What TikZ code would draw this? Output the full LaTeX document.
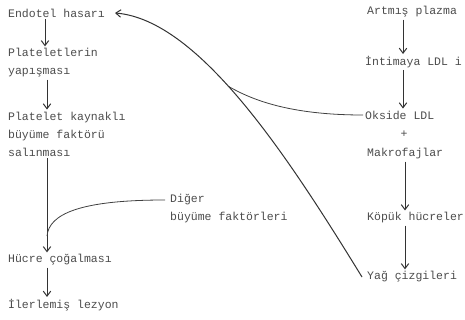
\documentclass[tikz,border=0pt]{standalone}
\usepackage{fontspec}
\newfontfamily\daktilo{Liberation Mono}
\usetikzlibrary{arrows.meta}

\begin{document}
\begin{tikzpicture}[x=1pt, y=-1pt,
    yazi/.style={anchor=west, inner sep=2pt, align=left, text=black!70,
        font=\daktilo\fontsize{11.5}{18}\selectfont},
    ok/.style={draw=black!80, line width=1pt, -{Straight Barb[length=5pt, width=7.5pt]}},
    egri/.style={draw=black!75, line width=0.8pt}]
    \useasboundingbox (0,0) rectangle (465,320);
    \foreach \n/\x/\y/\t in {endotel/6/13/Endotel hasarı,
            yapisma/6/63/{Plateletlerin\\yapışması},
            pdgf/6/134/{Platelet kaynaklı\\büyüme faktörü\\salınması},
            diger/168/209/{Diğer\\büyüme faktörleri},
            cogalma/6/260/Hücre çoğalması,
            lezyon/6/305/İlerlemiş lezyon,
            plazma/365/12/Artmış plazma,
            intima/363/62/İntimaya LDL i,
            okside/363/115/Okside LDL,
            makrofaj/365/154/Makrofajlar,
            kopuk/365/218/Köpük hücreler,
            yag/365/277/Yağ çizgileri} {
        \node[yazi] (\n) at (\x,\y) {\t};
    }
    \node[yazi, anchor=center] (arti) at (404,134) {+};

    \draw[ok] ([xshift=39pt]endotel.south west) -- ([xshift=39pt]yapisma.north west);
    \draw[ok] ([xshift=41pt]yapisma.south west) -- ([xshift=41pt]pdgf.north west);
    \draw[ok] ([xshift=41pt]pdgf.south west) -- ([xshift=41pt]cogalma.north west);
    \draw[ok] ([xshift=41pt]cogalma.south west) -- ([xshift=41pt]lezyon.north west);
    \draw[ok] ([xshift=38pt]plazma.south west) -- ([xshift=38pt]plazma.south west |- intima.north);
    \draw[ok] ([xshift=40pt]intima.south west) -- ([xshift=40pt]intima.south west |- okside.north);
    \draw[ok] ([xshift=40pt]makrofaj.south west) -- ([xshift=40pt]kopuk.north west);
    \draw[ok] ([xshift=40pt]kopuk.south west) -- ([xshift=40pt]yag.north west);

    \coordinate (birlesme) at (47,236);
    \draw[ok] ([xshift=-3pt]yag.west) .. controls (290,160) and (200,20) ..
        coordinate[pos=0.56] (kavsak) ([xshift=8pt]endotel.east);
    \draw[egri] (okside.west) .. controls (290,115) and (252,100) .. (kavsak);
    \draw[egri] ([xshift=-3pt, yshift=9pt]diger.west) .. controls (80,200) and (49,214) .. (birlesme);
\end{tikzpicture}
\end{document}
